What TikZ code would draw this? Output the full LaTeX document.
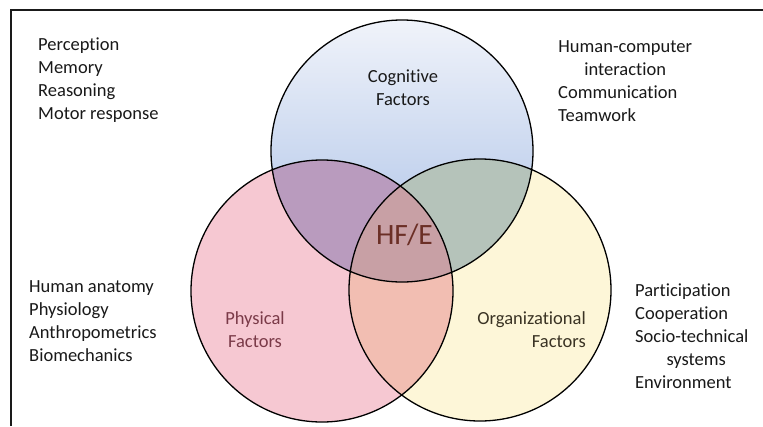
\documentclass[tikz,border=0pt]{standalone}
\usepackage{fontspec}
\setmainfont{Carlito}[Ligatures=NoCommon]
\definecolor{cogtop}{HTML}{F0F3FA}
\definecolor{cogbot}{HTML}{A8BFE6}
\definecolor{phyfill}{HTML}{F6C8D2}
\definecolor{orgfill}{HTML}{FDF6D8}
\definecolor{cpfill}{HTML}{B99BBE}
\definecolor{cofill}{HTML}{B5C3BA}
\definecolor{pofill}{HTML}{F2BEB2}
\definecolor{allfill}{HTML}{C8A0A5}
\definecolor{phytext}{HTML}{7A3A48}
\definecolor{orgtext}{HTML}{3A3324}
\definecolor{hfetext}{HTML}{6B2F26}
\definecolor{frame}{HTML}{1A1A1A}
\begin{document}
\begin{tikzpicture}[x=1pt,y=-1pt,
  lbl/.style={inner sep=0pt, font=\fontsize{18.5}{22.8}\selectfont, text=black!90},
  ring/.style={draw=black, line width=1.3pt}]
\useasboundingbox (0,0) rectangle (763,426);
\fill[white] (0,0) rectangle (763,426);
\def\cog{(402,151) circle[radius=131]}
\def\phy{(322,291) circle[radius=131]}
\def\org{(480,290) circle[radius=131]}
% base fills
\shade[top color=cogtop, bottom color=cogbot] \cog;
\fill[phyfill] \phy;
\fill[orgfill] \org;
% overlaps
\begin{scope}\clip \cog; \fill[cpfill] \phy; \end{scope}
\begin{scope}\clip \cog; \fill[cofill] \org; \end{scope}
\begin{scope}\clip \phy; \fill[pofill] \org; \end{scope}
\begin{scope}\clip \cog; \clip \phy; \fill[allfill] \org; \end{scope}
% outlines
\draw[ring] \cog;
\draw[ring] \phy;
\draw[ring] \org;
% frame
\coordinate (fbl) at (11,426);
\coordinate (ftl) at (11,9.5);
\coordinate (ftr) at (763,9.5);
\draw[frame, line width=2pt] (fbl) -- (ftl) -- (ftr);
% circle labels (anchor = baseline of last line)
\node[lbl, anchor=base, align=center] (cogl) at (403,105) {Cognitive\\Factors};
\node[lbl, anchor=base, align=center, text=phytext] (phyl) at (255,347) {Physical\\Factors};
\node[lbl, anchor=base east, align=right, text=orgtext] (orgl) at (586,347) {Organizational\\Factors};
\node[inner sep=0pt, anchor=base, text=hfetext, font=\fontsize{29.5}{32}\selectfont] (hfe) at (404.5,244) {HF/E};
% lists
\node[lbl, anchor=base west, align=left] (coglist) at (38,119) {Perception\\Memory\\Reasoning\\Motor response};
\node[lbl, anchor=base west, align=left] (orglist2) at (558,121) {\makebox[134pt][c]{Human-computer}\\\makebox[134pt][c]{interaction}\\Communication\\Teamwork};
\node[lbl, anchor=base west, align=left] (phylist) at (29,361) {Human anatomy\\Physiology\\Anthropometrics\\Biomechanics};
\node[lbl, anchor=base west, align=left] (orglist) at (635,388) {Participation\\Cooperation\\Socio-technical\\\makebox[122pt][c]{systems}\\Environment};
\end{tikzpicture}
\end{document}
